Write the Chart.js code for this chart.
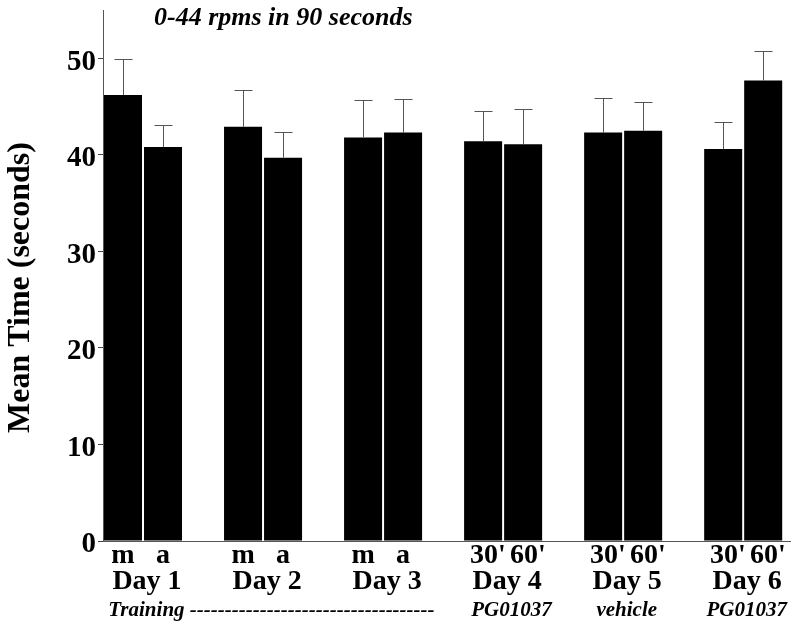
<!DOCTYPE html>
<html>
<head>
<meta charset="utf-8">
<script src="https://cdn.jsdelivr.net/npm/chart.js@4/dist/chart.umd.min.js"></script>
<style>
  html, body { margin: 0; padding: 0; background: #fff; }
</style>
</head>
<body>
<canvas id="chart" width="800" height="625"></canvas>
<script>
const titleText = '0-44 rpms in 90 seconds';
const days = ['Day 1', 'Day 2', 'Day 3', 'Day 4', 'Day 5', 'Day 6'];
const firstLabels = ['m', 'm', 'm', "30'", "30'", "30'"];
const secondLabels = ['a', 'a', 'a', "60'", "60'", "60'"];
const firstMeans = [46.2, 42.9, 41.8, 41.4, 42.3, 40.6];
const secondMeans = [40.8, 39.7, 42.3, 41.1, 42.5, 47.7];
const firstSE = [3.7, 3.8, 3.9, 3.1, 3.6, 2.8];
const secondSE = [2.3, 2.7, 3.5, 3.6, 3.0, 3.1];
const notes = ['Training -----------------------------------', 'PG01037', 'vehicle', 'PG01037'];
const yTicks = [0, 5, 10, 15, 20, 25, 30, 35, 40, 45, 50, 55];

const serif = 'Liberation Serif';
Chart.defaults.font.family = serif;
Chart.defaults.color = '#000';

// each day sits at x = index, its two bars at index -/+ 1/6 (one bar width)
const groupX = days.map((d, i) => i);
const barX = [];
const barLabels = [];
groupX.forEach((g, i) => {
  const nudge = firstLabels[i].length > 1 ? 0.04 : 0;
  barX.push(g - 1 / 6 + nudge, g + 1 / 6 + nudge);
  barLabels.push(firstLabels[i], secondLabels[i]);
});
const noteX = [1.07, 3.07, 4.03, 5.03];
const xMin = -1 / 3;
const xMax = 5.39;

const errorBars = {
  id: 'errorBars',
  afterDatasetsDraw(chart) {
    const { ctx } = chart;
    const y = chart.scales.y;
    ctx.save();
    ctx.strokeStyle = '#555';
    ctx.lineWidth = 1;
    chart.data.datasets.forEach((ds, di) => {
      chart.getDatasetMeta(di).data.forEach((bar, i) => {
        const top = Math.round(y.getPixelForValue(ds.data[i].y + ds.se[i])) + 0.5;
        const x = Math.round(bar.x) + 0.5;
        ctx.beginPath();
        ctx.moveTo(x, bar.y);
        ctx.lineTo(x, top);
        ctx.moveTo(x - 9, top);
        ctx.lineTo(x + 9, top);
        ctx.stroke();
      });
    });
    ctx.restore();
  }
};

const topTitle = {
  id: 'topTitle',
  afterDraw(chart) {
    const ctx = chart.ctx;
    ctx.save();
    ctx.font = 'italic bold 26px ' + serif;
    ctx.fillStyle = '#000';
    ctx.textAlign = 'left';
    ctx.textBaseline = 'alphabetic';
    ctx.fillText(titleText, 154, 25);
    ctx.restore();
  }
};

function xAxis(weight, height, values, labels, font, labelOffset, extra) {
  return Object.assign({
    type: 'linear',
    axis: 'x',
    position: 'bottom',
    weight: weight,
    min: xMin,
    max: xMax,
    offset: false,
    afterFit: s => {
      s.height = height;
      s.paddingLeft = 0;
      s.paddingRight = 0;
    },
    afterBuildTicks: s => { s.ticks = values.map(v => ({ value: v })); },
    ticks: {
      callback: (v, i) => labels[i],
      autoSkip: false,
      maxRotation: 0,
      padding: 0,
      labelOffset: labelOffset,
      font: font
    },
    grid: { display: false, drawTicks: false, tickLength: 0, offset: false },
    border: { display: false }
  }, extra || {});
}

new Chart(document.getElementById('chart'), {
  type: 'bar',
  data: {
    datasets: [
      {
        label: 'first',
        data: groupX.map((g, i) => ({ x: g, y: firstMeans[i] })),
        se: firstSE,
        backgroundColor: '#000',
        xAxisID: 'day',
        yAxisID: 'y'
      },
      {
        label: 'second',
        data: groupX.map((g, i) => ({ x: g, y: secondMeans[i] })),
        se: secondSE,
        backgroundColor: '#000',
        xAxisID: 'day',
        yAxisID: 'y'
      }
    ]
  },
  options: {
    responsive: false,
    animation: false,
    devicePixelRatio: 1,
    categoryPercentage: 2 / 3,
    barPercentage: 0.95,
    layout: { padding: { left: 0, right: 10, top: 10, bottom: 0 } },
    plugins: {
      legend: { display: false },
      tooltip: { enabled: false }
    },
    scales: {
      y: {
        min: 0,
        max: 55,
        afterFit: s => {
          s.width = 103;
          s.paddingTop = 0;
          s.paddingBottom = 0;
        },
        afterBuildTicks: s => { s.ticks = yTicks.map(v => ({ value: v })); },
        ticks: {
          callback: v => (v % 10 === 0 && v <= 50 ? v : null),
          padding: 2,
          labelOffset: 4,
          font: { size: 29, weight: 'bold' }
        },
        grid: {
          drawOnChartArea: false,
          tickLength: 5,
          color: c => (c.tick && c.tick.value % 10 === 0 ? '#444' : '#bbb')
        },
        border: { color: '#555' },
        title: {
          display: true,
          text: 'Mean Time (seconds)   ',
          padding: { top: 2, bottom: 0 },
          font: { size: 32, weight: 'bold' }
        }
      },
      bars: xAxis(0, 25, barX, barLabels, { size: 28, weight: 'bold', lineHeight: 30 / 28 }, 0,
        { border: { display: true, color: '#555' } }),
      day: xAxis(1, 30, groupX, days, { size: 28, weight: 'bold', lineHeight: 31 / 28 }, 4),
      notes: xAxis(2, 29, noteX, notes, { size: 21, weight: 'bold', style: 'italic', lineHeight: 29 / 21 }, 0)
    }
  },
  plugins: [errorBars, topTitle]
});
</script>
</body>
</html>
